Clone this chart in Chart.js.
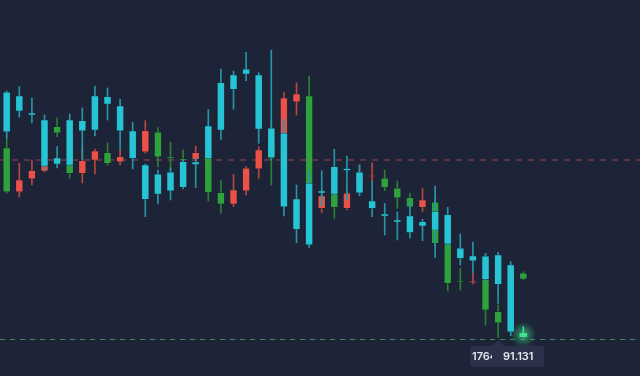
<!DOCTYPE html>
<html>
<head>
<meta charset="utf-8">
<script src="https://cdn.jsdelivr.net/npm/chart.js@4.4.1/dist/chart.umd.min.js"></script>
<style>
  html, body { margin: 0; padding: 0; background: #1e2437; }
  #wrap { width: 640px; height: 376px; }
</style>
</head>
<body>
<div id="wrap"><canvas id="candles" width="640" height="376"></canvas></div>
<script>
// cyan series (last candle is the live one)
const cyanOpen = [93.597, 93.56, 93.39, 93.32, 92.94, 93.32, 93.313, 93.56, 93.553, 93.46, 93.21, 92.87, 92.777, 92.797, 92.903, 92.9, 93.26, 93.693, 93.77, 93.827, 93.77, 93.237, 93.187, 92.53, 92.687, 92.61, 92.853, 92.835, 92.797, 92.51, 92.38, 92.32, 92.36, 92.303, 92.403, 92.373, 92.037, 91.96, 91.957, 91.97, 91.87, 91.187];
const cyanClose = [93.203, 93.41, 93.37, 92.86, 92.88, 92.87, 93.213, 93.22, 93.48, 93.213, 92.937, 92.527, 92.58, 92.613, 92.647, 92.875, 92.937, 93.22, 93.627, 93.78, 93.23, 92.947, 92.453, 92.227, 92.073, 92.59, 92.58, 92.815, 92.593, 92.437, 92.36, 92.3, 92.195, 92.26, 92.22, 92.08, 91.937, 91.913, 91.727, 91.677, 91.203, 91.153];
const cyanHigh = [93.61, 93.653, 93.54, 93.37, 93.053, 93.38, 93.44, 93.66, 93.64, 93.527, 93.297, 92.88, 92.82, 92.84, 92.92, 92.94, 93.427, 93.83, 93.81, 93.997, 93.793, 94.02, 93.33, 92.67, 92.81, 92.813, 93.027, 92.96, 92.87, 92.703, 92.487, 92.403, 92.487, 92.327, 92.66, 92.447, 92.18, 92.1, 91.987, 91.993, 91.903, 91.253];
const cyanLow = [93.14, 93.35, 93.29, 92.82, 92.84, 92.84, 92.92, 93.16, 93.32, 93.02, 92.83, 92.353, 92.48, 92.52, 92.63, 92.643, 92.92, 93.127, 93.427, 93.713, 93.087, 92.92, 92.36, 92.093, 92.047, 92.46, 92.56, 92.52, 92.563, 92.353, 92.17, 92.12, 92.14, 92.113, 91.947, 92.06, 91.87, 91.79, 91.71, 91.487, 91.163, 91.15];

// red / green series
const sigOpen = [92.603, 92.72, 92.813, 92.86, 93.193, 92.787, 92.913, 93.01, 92.887, 92.953, null, 93.213, 92.953, 92.935, 92.92, 92.993, 92.595, 92.48, 92.62, 92.837, 93.02, 92.935, 93.54, 93.58, 92.687, 92.56, 92.447, 92.587, 92.76, 92.765, 92.647, 92.543, 92.453, 92.52, 92.087, 91.687, 91.7, 91.707, 91.42, 91.293, null, 91.73];
const sigClose = [93.04, 92.603, 92.733, 92.81, 93.253, 92.87, 92.787, 92.92, 92.993, 92.903, null, 93.003, 93.197, 92.95, 92.933, 92.927, 92.947, 92.593, 92.48, 92.613, 92.833, 93.12, 93.187, 93.503, 93.56, 92.437, 92.58, 92.437, 92.66, 92.755, 92.737, 92.637, 92.543, 92.447, 92.497, 92.08, 91.71, 91.697, 91.727, 91.403, null, 91.787];
const sigHigh = [93.14, 92.89, 92.92, 92.92, 93.34, 92.92, 93.053, 93.03, 93.09, 93.02, null, 93.313, 93.243, 93.097, 93.02, 93.06, 93.0, 92.713, 92.777, 92.853, 93.053, 93.32, 93.597, 93.693, 93.76, 92.62, 92.7, 92.62, 92.87, 92.893, 92.82, 92.71, 92.587, 92.637, 92.55, 92.12, 91.837, 91.787, 91.76, 91.47, null, 91.803];
const sigLow = [92.59, 92.55, 92.67, 92.8, 93.153, 92.74, 92.69, 92.78, 92.87, 92.87, null, 92.99, 92.853, 92.82, 92.9, 92.91, 92.51, 92.387, 92.453, 92.57, 92.737, 92.67, 92.98, 93.37, 92.6, 92.393, 92.337, 92.42, 92.62, 92.703, 92.613, 92.437, 92.43, 92.403, 92.05, 91.61, 91.62, 91.68, 91.27, 91.147, null, 91.72];

const refLevel = 92.92;     // red dashed line
const lastPrice = 91.131;   // green dashed line
const priceLabel = ['1764', '91.131'];

const CYAN = '#27c4d6', CYAN_WICK = '#2596a8';
const UP = '#2ea23c', UP_WICK = '#2b8034';
const DOWN = '#ea5249', DOWN_WICK = '#b8463f';
const LIVE = '#3ee08a';

const lastIdx = cyanOpen.length - 1;

const cyanBodies = [], cyanWicks = [];
for (let i = 0; i < lastIdx; i++) {
  cyanBodies.push({ x: i, y: [cyanOpen[i], cyanClose[i]] });
  cyanWicks.push({ x: i, y: [cyanLow[i], cyanHigh[i]] });
}

const sigBodies = [], sigWicks = [], sigColors = [], sigWickColors = [];
sigOpen.forEach((o, i) => {
  if (o === null) return;
  const up = sigClose[i] >= o;
  sigBodies.push({ x: i, y: [o, sigClose[i]] });
  sigWicks.push({ x: i, y: [sigLow[i], sigHigh[i]] });
  sigColors.push(up ? UP : DOWN);
  sigWickColors.push(up ? UP_WICK : DOWN_WICK);
});

// soft halo behind the live candle + shadow on the candle itself
const glowPlugin = {
  id: 'glow',
  beforeDatasetsDraw(chart) {
    const ctx = chart.ctx;
    const cx = chart.scales.x.getPixelForValue(lastIdx);
    const cy = chart.scales.y.getPixelForValue((cyanOpen[lastIdx] + cyanClose[lastIdx]) / 2);
    const g = ctx.createRadialGradient(cx, cy, 0, cx, cy, 13);
    g.addColorStop(0, 'rgba(62,224,138,0.45)');
    g.addColorStop(1, 'rgba(62,224,138,0)');
    ctx.save();
    ctx.fillStyle = g;
    ctx.fillRect(cx - 14, cy - 14, 28, 28);
    ctx.restore();
  },
  beforeDatasetDraw(chart, args) {
    if (!chart.data.datasets[args.index].glow) return;
    const ctx = chart.ctx;
    ctx.save();
    ctx.shadowColor = 'rgba(62,224,138,1)';
    ctx.shadowBlur = 10;
  },
  afterDatasetDraw(chart, args) {
    if (!chart.data.datasets[args.index].glow) return;
    chart.ctx.restore();
  }
};

const guidesPlugin = {
  id: 'guides',
  beforeDatasetsDraw(chart) {
    const ctx = chart.ctx, y = chart.scales.y, a = chart.chartArea;
    ctx.save();
    ctx.lineWidth = 2;
    ctx.strokeStyle = '#5c3441';
    ctx.setLineDash([6, 6]);
    const ry = Math.round(y.getPixelForValue(refLevel));
    ctx.beginPath(); ctx.moveTo(a.left, ry); ctx.lineTo(a.right, ry); ctx.stroke();
    ctx.lineWidth = 1;
    ctx.strokeStyle = '#3d8c58';
    ctx.setLineDash([5, 5]);
    const gy = Math.round(y.getPixelForValue(lastPrice)) + 0.5;
    ctx.beginPath(); ctx.moveTo(a.left, gy); ctx.lineTo(a.right, gy); ctx.stroke();
    ctx.restore();
  },
  afterDatasetsDraw(chart) {
    const ctx = chart.ctx, y = chart.scales.y, x = chart.scales.x;
    const gy = y.getPixelForValue(lastPrice);
    const px = x.getPixelForValue(39);
    const bx = 470, by = gy + 7, bw = 74, bh = 21;
    ctx.save();
    ctx.fillStyle = '#2a3148';
    ctx.beginPath();
    ctx.roundRect(bx, by, bw, bh, 3);
    ctx.fill();
    ctx.beginPath();
    ctx.moveTo(px - 6, by); ctx.lineTo(px, by - 6); ctx.lineTo(px + 6, by); ctx.closePath();
    ctx.fill();
    ctx.font = '600 11px Inter, "Noto Sans", sans-serif';
    ctx.fillStyle = '#e4e7ee';
    ctx.textBaseline = 'middle';
    ctx.save();
    ctx.beginPath(); ctx.rect(bx, by, 22, bh); ctx.clip();
    ctx.fillText(priceLabel[0], bx + 2, by + bh / 2 + 0.5);
    ctx.restore();
    ctx.fillText(priceLabel[1], bx + 33, by + bh / 2 + 0.5);
    ctx.restore();
  }
};

new Chart(document.getElementById('candles'), {
  type: 'bar',
  data: {
    datasets: [
      { label: 'live', data: [{ x: lastIdx, y: [cyanOpen[lastIdx], cyanClose[lastIdx]] }], backgroundColor: LIVE, barThickness: 7, grouped: false, order: 0, glow: true },
      { label: 'live wick', data: [{ x: lastIdx, y: [cyanLow[lastIdx], cyanHigh[lastIdx]] }], backgroundColor: LIVE, barThickness: 1, grouped: false, order: 1, glow: true },
      { label: 'cyan', data: cyanBodies, backgroundColor: CYAN, borderColor: 'rgba(20,60,75,0.55)', borderWidth: 0.6, borderSkipped: false, barThickness: 7, grouped: false, order: 2 },
      { label: 'cyan wick', data: cyanWicks, backgroundColor: CYAN_WICK, barThickness: 1, grouped: false, order: 3 },
      { label: 'signal', data: sigBodies, backgroundColor: sigColors, borderColor: 'rgba(20,25,35,0.45)', borderWidth: 0.6, borderSkipped: false, barThickness: 7, grouped: false, order: 4 },
      { label: 'signal wick', data: sigWicks, backgroundColor: sigWickColors, barThickness: 1, grouped: false, order: 5 }
    ]
  },
  options: {
    responsive: false,
    animation: false,
    devicePixelRatio: 1,
    layout: { padding: 0 },
    plugins: { legend: { display: false }, tooltip: { enabled: false } },
    scales: {
      x: { type: 'linear', offset: false, bounds: 'data', min: -0.532, max: 50.26, display: false },
      y: { type: 'linear', min: 90.76, max: 94.52, display: false }
    }
  },
  plugins: [glowPlugin, guidesPlugin]
});
</script>
</body>
</html>
